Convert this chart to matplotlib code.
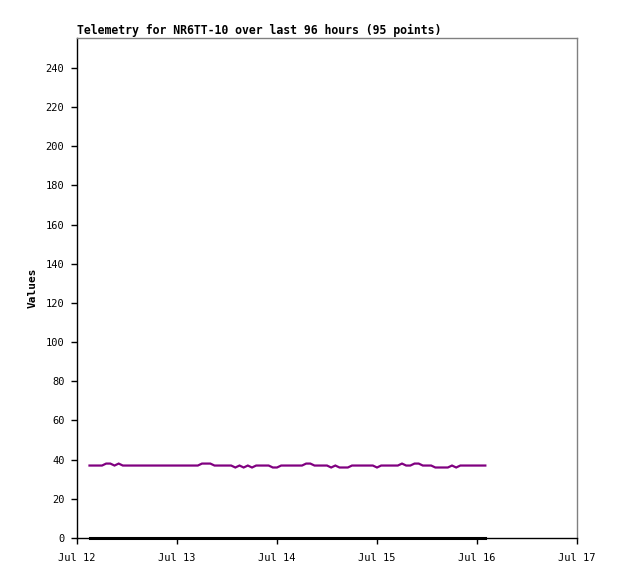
"""Telemetry chart for NR6TT-10 over the last 96 hours."""

import matplotlib

matplotlib.use("Agg")

import matplotlib.dates as mdates
import matplotlib.pyplot as plt
import pandas as pd

# hours after Jul 12 00:00 at which a packet arrived (one hour missing -> 95 points)
hours = [h for h in range(3, 99) if h != 20]

# channel values, one per hour listed above
values = (
    [37, 37, 37, 37, 38, 38, 37, 38]            # h3..h10
    + [37] * 18                                 # h11..h29 (h20 missing)
    + [38, 38, 38]                              # h30..h32
    + [37, 37, 37, 37, 37, 36, 37, 36, 37, 36]  # h33..h42
    + [37, 37, 37, 37, 36, 36]                  # h43..h48
    + [37, 37, 37, 37, 37, 37, 38, 38]          # h49..h56
    + [37, 37, 37, 37, 36, 37, 36, 36, 36]      # h57..h65
    + [37, 37, 37, 37, 37, 37, 36]              # h66..h72
    + [37, 37, 37, 37, 37, 38, 37, 37, 38, 38]  # h73..h82
    + [37, 37, 37, 36, 36, 36, 36, 37, 36]      # h83..h91
    + [37] * 7                                  # h92..h98
)
zeros = [0] * len(hours)

start = pd.Timestamp("2023-07-12 00:00")
times = [start + pd.Timedelta(hours=h) for h in hours]

y_ticks = list(range(0, 241, 20))
x_ticks = pd.date_range("2023-07-12", "2023-07-17", freq="D")

mono = "DejaVu Sans Mono"

fig = plt.figure(figsize=(6.18, 5.79), dpi=100)
ax = fig.add_axes([77 / 618, 1 - 538 / 579, 500 / 618, 500 / 579])

ax.plot(times, values, color="#800080", linewidth=1.6, solid_joinstyle="miter")
ax.plot(times, zeros, color="black", linewidth=2.2, clip_on=False)

ax.set_xlim(x_ticks[0], x_ticks[-1])
ax.set_ylim(0, 255.3)
ax.set_yticks(y_ticks)
ax.set_xticks(x_ticks)
ax.xaxis.set_major_formatter(mdates.DateFormatter("%b %d"))

for side in ("top", "right"):
    ax.spines[side].set_color("#808080")
for side in ("left", "bottom"):
    ax.spines[side].set_color("black")
for spine in ax.spines.values():
    spine.set_linewidth(1.0)

ax.tick_params(direction="out", length=4, width=1, labelsize=7.5)
ax.tick_params(axis="x", pad=7)
ax.tick_params(axis="y", pad=5)
for label in ax.get_xticklabels() + ax.get_yticklabels():
    label.set_fontfamily(mono)

ax.set_ylabel("Values", fontfamily=mono, fontweight="bold", fontsize=8, labelpad=6)
ax.set_title(
    "Telemetry for NR6TT-10 over last 96 hours (95 points)",
    loc="left",
    fontfamily=mono,
    fontweight="bold",
    fontsize=8.3,
    pad=3,
)

fig.savefig("out.png", dpi=100)
